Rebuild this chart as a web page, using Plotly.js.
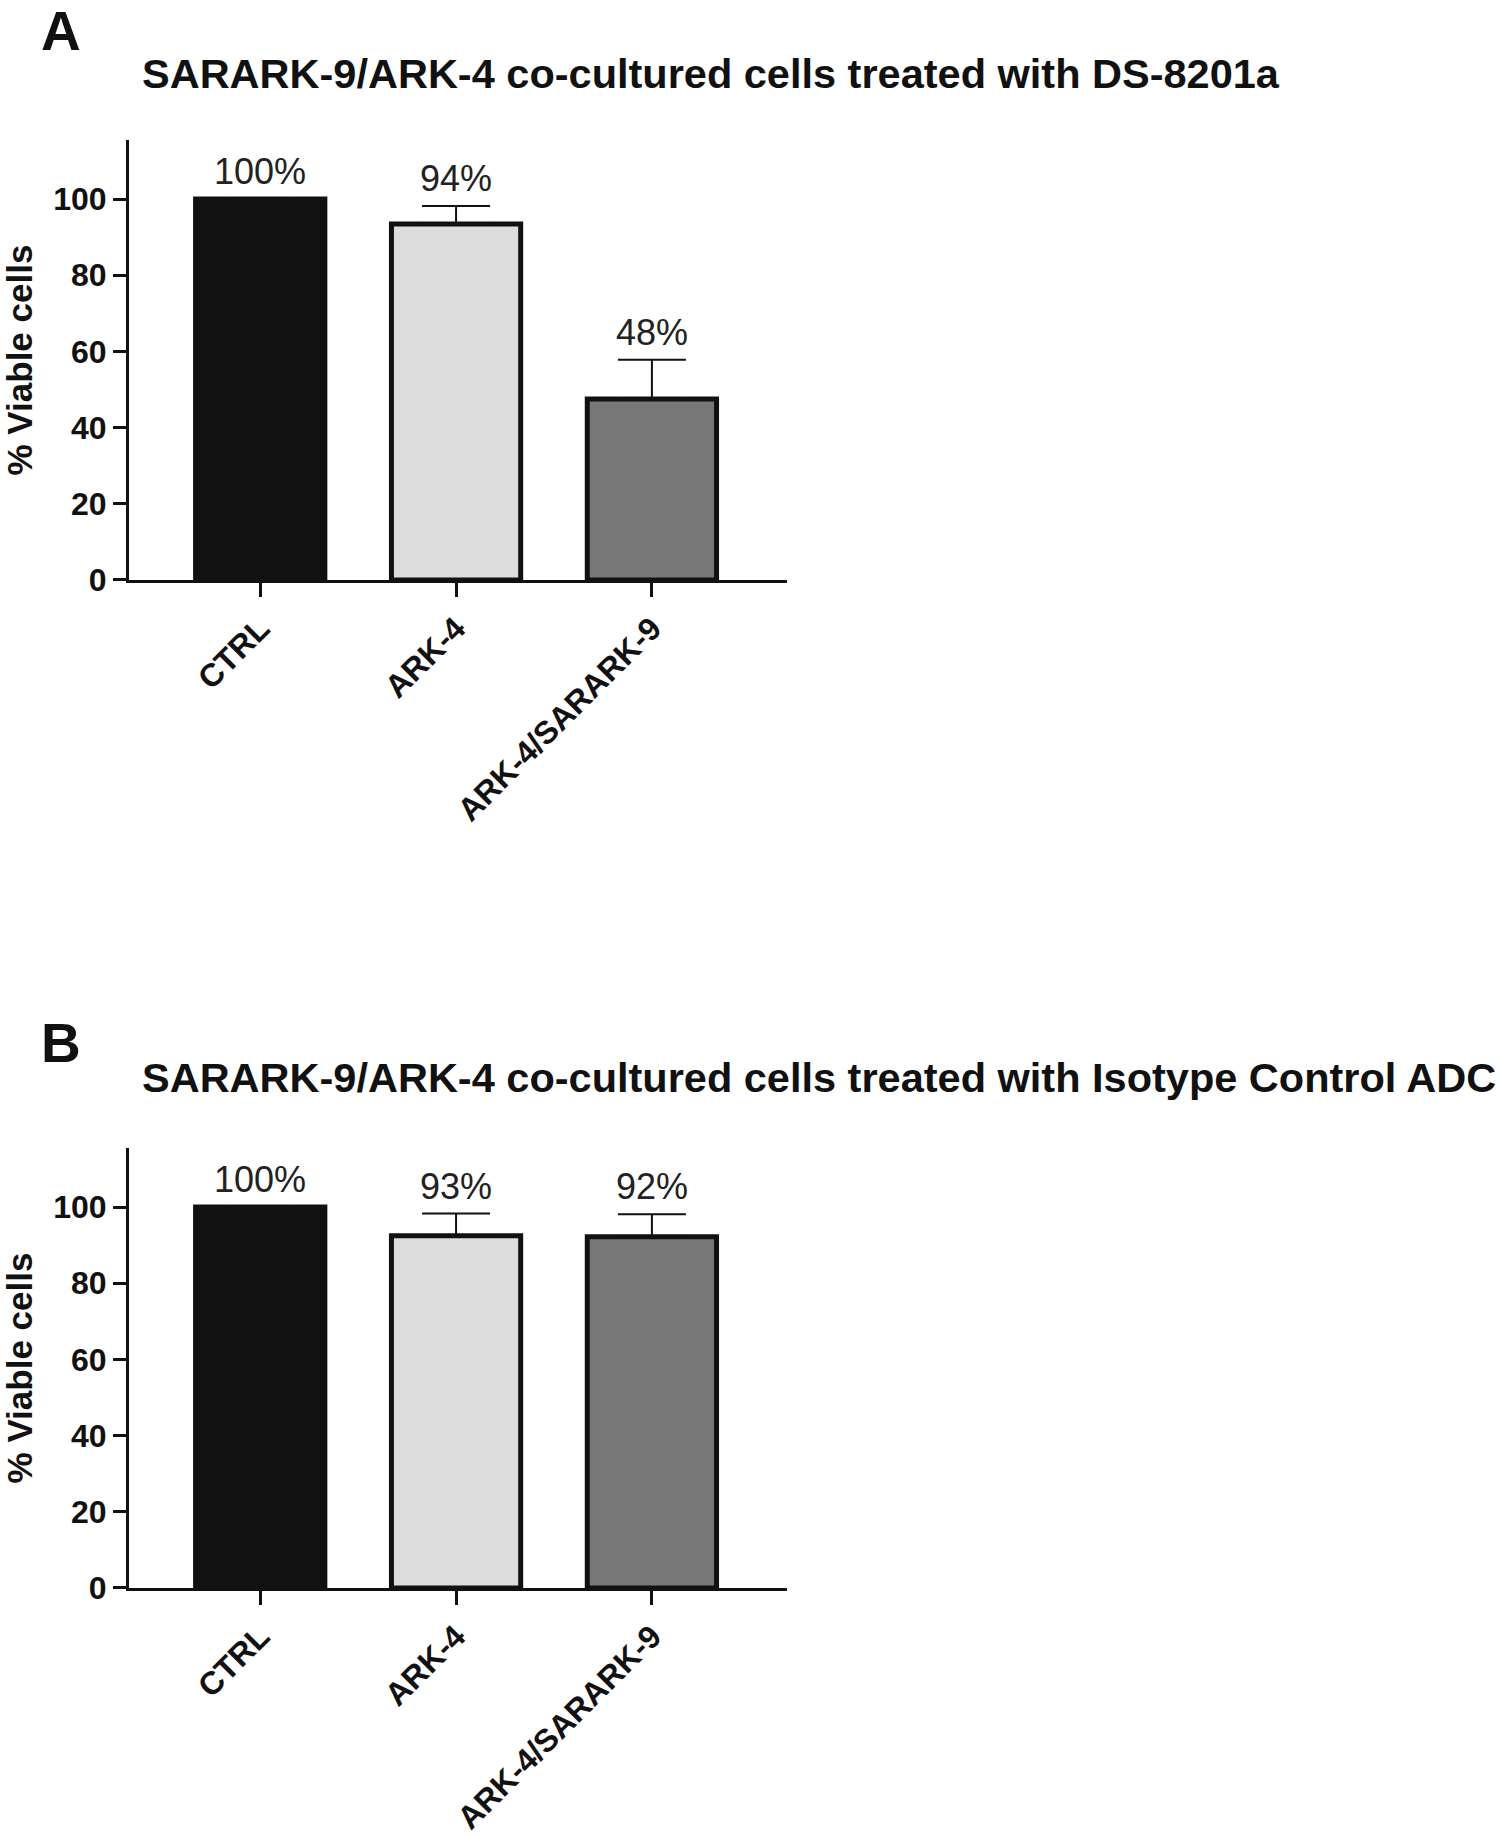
<!DOCTYPE html>
<html>
<head>
<meta charset="utf-8">
<script src="https://cdn.plot.ly/plotly-3.0.1.min.js"></script>
<style>
  body { margin: 0; background: #ffffff; }
  #chart { width: 1500px; height: 1836px; }
</style>
</head>
<body>
<div id="chart"></div>
<script>
// Categories and colours shared by both panels
const categories = ['CTRL', 'ARK-4', 'ARK-4/SARARK-9'];
const barColors = ['#111111', '#dcdcdc', '#787878'];

// Panel A - DS-8201a
const valuesA = [100, 93.5, 47.5];
const errorsA = [0, 4.7, 10.3];
const labelsA = ['100%', '94%', '48%'];

// Panel B - Isotype Control ADC
const valuesB = [100, 92.5, 92.2];
const errorsB = [0, 5.8, 5.9];
const labelsB = ['100%', '93%', '92%'];

const titleA = 'SARARK-9/ARK-4 co-cultured cells treated with DS-8201a';
const titleB = 'SARARK-9/ARK-4 co-cultured cells treated with Isotype Control ADC';
const yTitle = '% Viable cells';

const fontFamily = 'Liberation Sans, Arial, sans-serif';

// Build one bar trace
function makeBars(values, errors, xa, ya) {
  return {
    type: 'bar',
    x: categories,
    y: values,
    xaxis: xa,
    yaxis: ya,
    width: 0.66,
    marker: {
      color: barColors,
      line: { color: '#111111', width: 5 }
    },
    error_y: {
      type: 'data',
      symmetric: false,
      array: errors,
      arrayminus: [0, 0, 0],
      color: '#111111',
      thickness: 2,
      width: 34
    },
    hoverinfo: 'skip',
    showlegend: false
  };
}

// Percentage labels sit above the error bar
function makeLabels(values, errors, labels, xref, yref) {
  const out = [];
  for (let i = 0; i < categories.length; i++) {
    out.push({
      x: categories[i],
      y: values[i] + errors[i],
      xref: xref,
      yref: yref,
      text: labels[i],
      showarrow: false,
      yanchor: 'bottom',
      yshift: 5,
      font: { family: fontFamily, size: 36, color: '#222222' }
    });
  }
  return out;
}

function xAxis(anchor) {
  return {
    anchor: anchor,
    domain: [0.086, 0.5247],
    range: [-0.67, 2.69],
    showline: true,
    linecolor: '#111111',
    linewidth: 3,
    ticks: 'outside',
    ticklen: 14,
    tickwidth: 3,
    tickcolor: '#111111',
    tickangle: -45,
    tickfont: { family: fontFamily, size: 32, color: '#111111', weight: 'bold' },
    showgrid: false,
    zeroline: false,
    fixedrange: true
  };
}

function yAxis(anchor, domain) {
  return {
    anchor: anchor,
    domain: domain,
    range: [0, 115.5],
    tickvals: [0, 20, 40, 60, 80, 100],
    showline: true,
    linecolor: '#111111',
    linewidth: 3,
    ticks: 'outside',
    ticklen: 13,
    tickwidth: 3,
    tickcolor: '#111111',
    tickfont: { family: fontFamily, size: 32, color: '#111111', weight: 'bold' },
    title: {
      text: yTitle,
      font: { family: fontFamily, size: 35, color: '#111111', weight: 'bold' },
      standoff: 14
    },
    showgrid: false,
    zeroline: false,
    fixedrange: true
  };
}

const data = [
  makeBars(valuesA, errorsA, 'x', 'y'),
  makeBars(valuesB, errorsB, 'x2', 'y2')
];

const headings = [
  { text: 'A', x: 0.026, y: 1 - 31 / 1836, size: 55 },
  { text: 'B', x: 0.026, y: 1 - 1043 / 1836, size: 55 },
  { text: titleA, x: 0.0933, y: 1 - 73 / 1836, size: 41.5 },
  { text: titleB, x: 0.0933, y: 1 - 1077 / 1836, size: 41.5 }
].map(function (h) {
  return {
    text: h.text,
    xref: 'paper',
    yref: 'paper',
    x: h.x,
    y: h.y,
    xanchor: 'left',
    yanchor: 'middle',
    showarrow: false,
    font: { family: fontFamily, size: h.size, color: '#111111', weight: 'bold' }
  };
});

const layout = {
  width: 1500,
  height: 1836,
  margin: { l: 0, r: 0, t: 0, b: 0 },
  paper_bgcolor: '#ffffff',
  plot_bgcolor: '#ffffff',
  bargap: 0,
  xaxis: xAxis('y'),
  yaxis: yAxis('x', [0.6841, 0.9237]),
  xaxis2: xAxis('y2'),
  yaxis2: yAxis('x2', [0.1351, 0.3747]),
  annotations: headings
    .concat(makeLabels(valuesA, errorsA, labelsA, 'x', 'y'))
    .concat(makeLabels(valuesB, errorsB, labelsB, 'x2', 'y2'))
};

Plotly.newPlot('chart', data, layout, { displayModeBar: false, staticPlot: true });
</script>
</body>
</html>
